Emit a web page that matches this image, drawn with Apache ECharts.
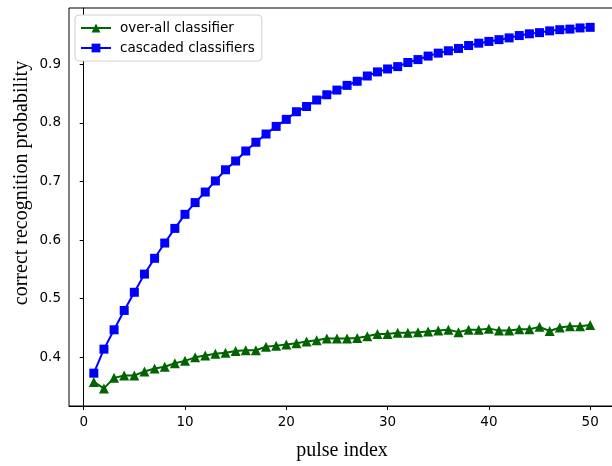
<!DOCTYPE html>
<html>
<head>
  <meta charset="UTF-8">
  <title>Recognition probability</title>
  <script src="https://cdn.jsdelivr.net/npm/echarts@6/dist/echarts.min.js"></script>
  <style>
    html, body { margin: 0; padding: 0; overflow: hidden; background: #fff; }
  </style>
</head>
<body>
  <div id="main" style="width:620px; height:466px;"></div>
  <script>
    // pulse index 1..50
    var pulses = [];
    for (var i = 1; i <= 50; i++) pulses.push(i);

    var overAll = [
      0.358, 0.347, 0.365, 0.369, 0.369, 0.376, 0.381, 0.384, 0.390, 0.394,
      0.400, 0.403, 0.406, 0.408, 0.411, 0.412, 0.412, 0.418, 0.420, 0.422,
      0.424, 0.427, 0.429, 0.432, 0.432, 0.432, 0.433, 0.436, 0.440, 0.440,
      0.442, 0.442, 0.443, 0.444, 0.446, 0.447, 0.443, 0.447, 0.447, 0.449,
      0.446, 0.446, 0.448, 0.448, 0.452, 0.445, 0.451, 0.453, 0.453, 0.455
    ];
    var cascaded = [
      0.373, 0.414, 0.447, 0.480, 0.511, 0.542, 0.569, 0.595, 0.620, 0.644,
      0.664, 0.682, 0.701, 0.720, 0.735, 0.752, 0.767, 0.781, 0.794, 0.806,
      0.819, 0.828, 0.839, 0.848, 0.856, 0.864, 0.871, 0.880, 0.887, 0.892,
      0.896, 0.903, 0.908, 0.914, 0.919, 0.923, 0.927, 0.932, 0.936, 0.939,
      0.942, 0.945, 0.949, 0.952, 0.954, 0.957, 0.959, 0.960, 0.962, 0.963
    ];
    var xTicks = [0, 10, 20, 30, 40, 50];
    var yTicks = [0.4, 0.5, 0.6, 0.7, 0.8, 0.9];

    function pairs(ys) {
      return pulses.map(function (x, k) { return [x, ys[k]]; });
    }

    var tickFont = { fontFamily: 'DejaVu Sans', fontSize: 13.5, color: '#000' };

    var chart = echarts.init(document.getElementById('main'), null, {renderer: 'canvas'});
    chart.setOption({
      animation: false,
      backgroundColor: '#fff',
      grid: {
        left: 69, top: 8, width: 546, height: 398,
        show: true, borderColor: '#000', borderWidth: 1, backgroundColor: 'transparent'
      },
      legend: {
        orient: 'vertical',
        left: 75, top: 15,
        padding: [6, 7, 6, 5],
        itemWidth: 30, itemHeight: 11, itemGap: 6,
        backgroundColor: '#fff',
        borderColor: '#d0d0d0', borderWidth: 1, borderRadius: 4,
        textStyle: { fontFamily: 'DejaVu Sans', fontSize: 13.5, color: '#000', padding: [0, 0, 0, 4] },
        data: ['over-all classifier', 'cascaded classifiers']
      },
      xAxis: {
        type: 'value',
        min: -1.45, max: 52.45,
        name: 'pulse index',
        nameLocation: 'middle',
        nameGap: 35,
        nameTextStyle: { fontFamily: 'Liberation Serif', fontSize: 20, color: '#000' },
        axisLine: { lineStyle: { color: '#000', width: 1 } },
        axisTick: { show: true, length: 4, lineStyle: { color: '#000' }, customValues: xTicks },
        axisLabel: Object.assign({ margin: 9, customValues: xTicks }, tickFont),
        splitLine: { show: false }
      },
      yAxis: {
        type: 'value',
        min: 0.317, max: 0.996,
        axisLine: { show: true, lineStyle: { color: '#000', width: 1 } },
        axisTick: { show: true, length: 4, lineStyle: { color: '#000' }, customValues: yTicks },
        axisLabel: Object.assign({ margin: 8, customValues: yTicks, formatter: function (v) { return v.toFixed(1); } }, tickFont),
        splitLine: { show: false }
      },
      graphic: [{
        type: 'text',
        x: 22, y: 183,
        rotation: Math.PI / 2,
        style: {
          text: 'correct recognition probability',
          fontFamily: 'Liberation Serif', fontSize: 20, fill: '#000',
          align: 'center', verticalAlign: 'middle'
        }
      }],
      series: [
        {
          name: 'over-all classifier',
          type: 'line',
          data: pairs(overAll),
          symbol: 'triangle', symbolSize: 10,
          showAllSymbol: true,
          color: '#006400',
          lineStyle: { color: '#006400', width: 2 },
          itemStyle: { color: '#006400' }
        },
        {
          name: 'cascaded classifiers',
          type: 'line',
          data: pairs(cascaded),
          symbol: 'rect', symbolSize: 9,
          showAllSymbol: true,
          color: '#0000ff',
          lineStyle: { color: '#0000ff', width: 2 },
          itemStyle: { color: '#0000ff' }
        }
      ]
    });
  </script>
</body>
</html>
